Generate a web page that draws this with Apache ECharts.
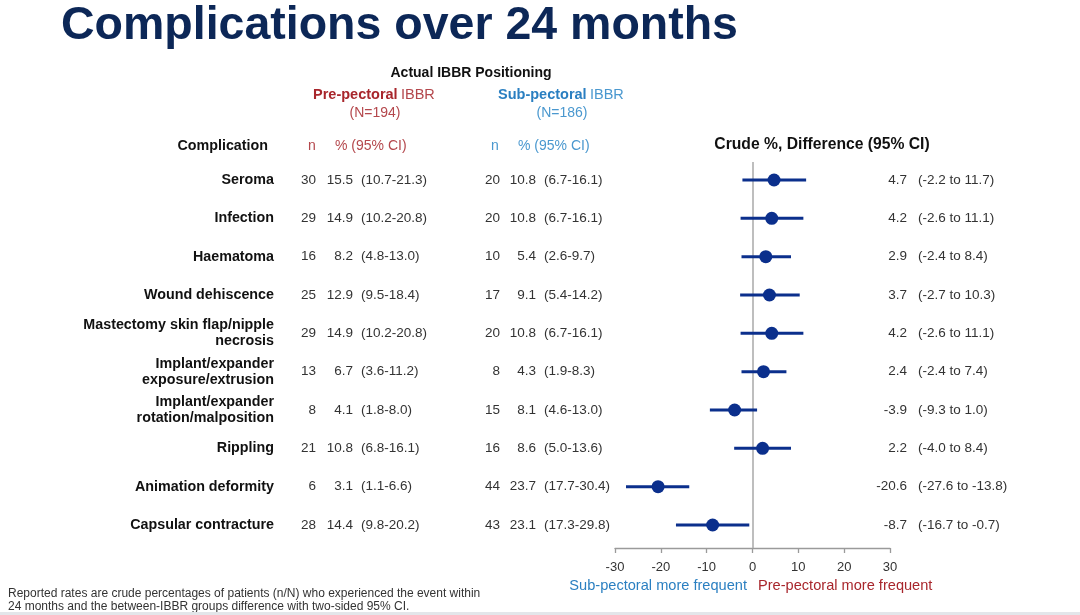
<!DOCTYPE html>
<html>
<head>
<meta charset="utf-8">
<script src="https://cdn.jsdelivr.net/npm/echarts@6/dist/echarts.min.js"></script>
<style>
html,body{margin:0;padding:0;background:#fff;}
#chart{width:1080px;height:615px;}
</style>
</head>
<body>
<div id="chart"></div>
<script>
const complications = ['Seroma','Infection','Haematoma','Wound dehiscence','Mastectomy skin flap/nipple\nnecrosis','Implant/expander\nexposure/extrusion','Implant/expander\nrotation/malposition','Rippling','Animation deformity','Capsular contracture'];
const preN   = [30, 29, 16, 25, 29, 13, 8, 21, 6, 28];
const prePct = [15.5, 14.9, 8.2, 12.9, 14.9, 6.7, 4.1, 10.8, 3.1, 14.4];
const preLo  = [10.7, 10.2, 4.8, 9.5, 10.2, 3.6, 1.8, 6.8, 1.1, 9.8];
const preHi  = [21.3, 20.8, 13.0, 18.4, 20.8, 11.2, 8.0, 16.1, 6.6, 20.2];
const subN   = [20, 20, 10, 17, 20, 8, 15, 16, 44, 43];
const subPct = [10.8, 10.8, 5.4, 9.1, 10.8, 4.3, 8.1, 8.6, 23.7, 23.1];
const subLo  = [6.7, 6.7, 2.6, 5.4, 6.7, 1.9, 4.6, 5.0, 17.7, 17.3];
const subHi  = [16.1, 16.1, 9.7, 14.2, 16.1, 8.3, 13.0, 13.6, 30.4, 29.8];
const diff   = [4.7, 4.2, 2.9, 3.7, 4.2, 2.4, -3.9, 2.2, -20.6, -8.7];
const diffLo = [-2.2, -2.6, -2.4, -2.7, -2.6, -2.4, -9.3, -4.0, -27.6, -16.7];
const diffHi = [11.7, 11.1, 8.4, 10.3, 11.1, 7.4, 1.0, 8.4, -13.8, -0.7];
const xMin = -30, xMax = 30, xStep = 10;

const FONT = '"Liberation Sans", Arial, Helvetica, sans-serif';
const RED = '#a8262c', RED_L = '#b4474c';
const BLUE = '#2a7fc1', BLUE_L = '#4a98cf';
const NAVY = '#0b2f8c';
const fmt = v => v.toFixed(1);

const chart = echarts.init(document.getElementById('chart'));

function txt(x, y, text, align, extra) {
  return {
    type: 'text',
    style: Object.assign({
      x: x, y: y, text: text, align: align, verticalAlign: 'middle',
      fill: '#333', fontSize: 13.5, fontFamily: FONT, lineHeight: 16
    }, extra || {})
  };
}

function tableItem(params, api) {
  const i = params.dataIndex;
  const y = api.coord([0, api.value(1)])[1];
  return {
    type: 'group',
    children: [
      txt(274, y, complications[i], 'right', {fill: '#111', fontWeight: 'bold', fontSize: 14.3}),
      txt(316, y, String(preN[i]), 'right'),
      txt(353, y, fmt(prePct[i]), 'right'),
      txt(361, y, '(' + fmt(preLo[i]) + '-' + fmt(preHi[i]) + ')', 'left'),
      txt(500, y, String(subN[i]), 'right'),
      txt(536, y, fmt(subPct[i]), 'right'),
      txt(544, y, '(' + fmt(subLo[i]) + '-' + fmt(subHi[i]) + ')', 'left'),
      txt(907, y, fmt(diff[i]), 'right'),
      txt(918, y, '(' + fmt(diffLo[i]) + ' to ' + fmt(diffHi[i]) + ')', 'left')
    ]
  };
}

function barItem(params, api) {
  const p1 = api.coord([api.value(0), api.value(2)]);
  const p2 = api.coord([api.value(1), api.value(2)]);
  return {
    type: 'line',
    shape: {x1: p1[0], y1: p1[1], x2: p2[0], y2: p2[1]},
    style: {stroke: NAVY, lineWidth: 3}
  };
}

function g(x, y, text, align, extra) {
  return {
    type: 'text', x: x, y: y,
    style: Object.assign({
      text: text, align: align, verticalAlign: 'middle',
      fill: '#111', fontSize: 14, fontFamily: FONT
    }, extra || {})
  };
}

const option = {
  animation: false,
  backgroundColor: '#ffffff',
  grid: {left: 615, right: 190, top: 162, bottom: 67, containLabel: false},
  xAxis: {
    type: 'value', min: xMin, max: xMax, interval: xStep,
    axisLine: {show: true, onZero: false, lineStyle: {color: '#9a9a9a', width: 1.3}},
    axisTick: {show: true, length: 5, lineStyle: {color: '#9a9a9a', width: 1.3}},
    axisLabel: {color: '#333', fontSize: 13, fontFamily: FONT, margin: 13},
    splitLine: {show: false}
  },
  yAxis: {
    type: 'value', inverse: true, min: -0.47, max: 9.6, show: false
  },
  series: [
    {
      type: 'custom', name: 'ci', clip: false,
      renderItem: barItem,
      encode: {x: [0, 1], y: 2},
      data: diff.map((d, i) => [diffLo[i], diffHi[i], i]),
      z: 3
    },
    {
      type: 'scatter', name: 'diff',
      symbol: 'circle', symbolSize: 13,
      itemStyle: {color: NAVY, opacity: 1},
      data: diff.map((d, i) => [d, i]),
      z: 4,
      markLine: {
        silent: true, symbol: ['none', 'none'],
        label: {show: false},
        lineStyle: {color: '#a8a8a8', width: 1.5, type: 'solid'},
        data: [{xAxis: 0}],
        z: 1
      }
    },
    {
      type: 'custom', name: 'table', clip: false,
      renderItem: tableItem,
      encode: {x: 0, y: 1},
      data: diff.map((d, i) => [0, i]),
      z: 2
    }
  ],
  graphic: [
    {type: 'text', x: 61, y: 26,
     style: {text: 'Complications over 24 months', align: 'left', verticalAlign: 'middle',
             fill: '#0c2757', fontSize: 46.5, fontWeight: 'bold', fontFamily: FONT}},
    g(471, 73, 'Actual IBBR Positioning', 'center', {fontWeight: 'bold', fontSize: 14}),
    {type: 'text', x: 313, y: 95,
     style: {text: '{b|Pre-pectoral} {n|IBBR}', align: 'left', verticalAlign: 'middle',
             rich: {b: {fill: RED, fontWeight: 'bold', fontSize: 14.5, fontFamily: FONT},
                    n: {fill: RED_L, fontSize: 14.5, fontFamily: FONT}}}},
    g(375, 113, '(N=194)', 'center', {fill: RED_L, fontSize: 14}),
    {type: 'text', x: 498, y: 95,
     style: {text: '{b|Sub-pectoral} {n|IBBR}', align: 'left', verticalAlign: 'middle',
             rich: {b: {fill: BLUE, fontWeight: 'bold', fontSize: 14.5, fontFamily: FONT},
                    n: {fill: BLUE_L, fontSize: 14.5, fontFamily: FONT}}}},
    g(562, 113, '(N=186)', 'center', {fill: BLUE_L, fontSize: 14}),
    g(268, 146, 'Complication', 'right', {fontWeight: 'bold', fontSize: 14.3}),
    g(312, 146, 'n', 'center', {fill: RED_L, fontSize: 14}),
    g(335, 146, '% (95% CI)', 'left', {fill: RED_L, fontSize: 14}),
    g(495, 146, 'n', 'center', {fill: BLUE_L, fontSize: 14}),
    g(518, 146, '% (95% CI)', 'left', {fill: BLUE_L, fontSize: 14}),
    g(822, 145, 'Crude %, Difference (95% CI)', 'center', {fontWeight: 'bold', fontSize: 15.7}),
    g(747, 586, 'Sub-pectoral more frequent', 'right', {fill: BLUE, fontSize: 14.6}),
    g(758, 586, 'Pre-pectoral more frequent', 'left', {fill: RED, fontSize: 14.6}),
    g(8, 594, 'Reported rates are crude percentages of patients (n/N) who experienced the event within', 'left', {fill: '#333', fontSize: 12}),
    g(8, 607, '24 months and the between-IBBR groups difference with two-sided 95% CI.', 'left', {fill: '#333', fontSize: 12}),
    {type: 'rect', shape: {x: 0, y: 612, width: 1080, height: 3}, style: {fill: '#e3e6ea'}}
  ]
};
chart.setOption(option);
</script>
</body>
</html>
